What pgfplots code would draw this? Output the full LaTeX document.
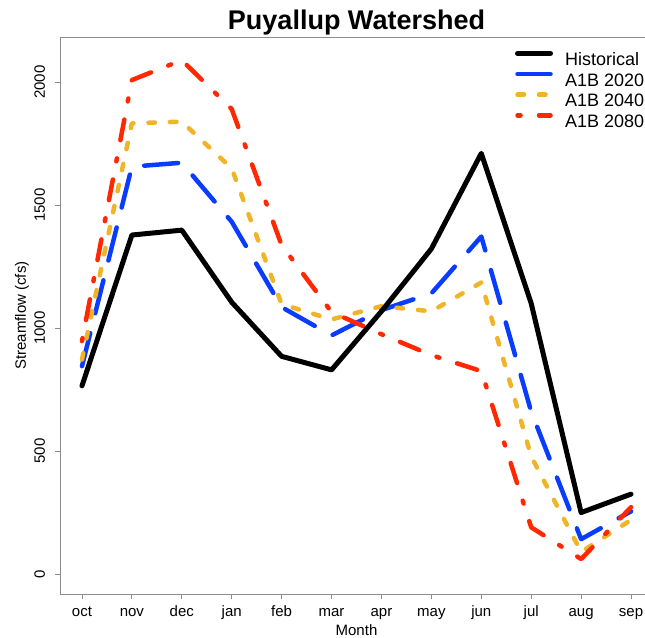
\documentclass[border=0pt]{standalone}
\usepackage{fontspec}
\setmainfont{Liberation Sans}
\usepackage{pgfplots}
\pgfplotsset{compat=1.18}
\definecolor{cBlue}{HTML}{0A3CFF}
\definecolor{cOrange}{HTML}{F0B428}
\definecolor{cRed}{HTML}{FF2800}
\definecolor{cFrame}{gray}{0.55}
\tikzset{
  sHist/.style={black, line width=5pt, line join=round, line cap=round},
  s2020/.style={cBlue, line width=4.5pt, line join=round, line cap=round, dash pattern=on 34pt off 20.5pt},
  s2040/.style={cOrange, line width=4.5pt, line join=round, line cap=round, dash pattern=on 6.5pt off 15pt},
  s2080/.style={cRed, line width=4.5pt, line join=round, line cap=round, dash pattern=on 3pt off 18.5pt on 21pt off 18.5pt},
}
\begin{document}
\begin{tikzpicture}
\useasboundingbox (-60pt,-43pt) rectangle (585pt,594pt);
\begin{axis}[
  name=ax,
  at={(0pt,0pt)}, anchor=south west,
  scale only axis, width=593pt, height=557pt,
  xmin=-0.44, xmax=11.44, ymin=-81, ymax=2183,
  axis line style={draw=none},
  xtick={0,1,2,3,4,5,6,7,8,9,10,11},
  xticklabels={oct,nov,dec,jan,feb,mar,apr,may,jun,jul,aug,sep},
  ytick={0,500,1000,1500,2000},
  tick align=outside, tick pos=left, major tick length=5pt,
  tick style={cFrame, line width=0.8pt},
  /pgf/number format/assume math mode=true,
  /pgf/number format/1000 sep={},
  every tick label/.append style={font=\fontsize{15}{18}\selectfont},
  xticklabel style={anchor=base, inner sep=0pt, yshift=-17pt},
  yticklabel style={anchor=base, inner sep=0pt, rotate=90, yshift=10pt},
  xlabel={Month},
  ylabel={Streamflow (cfs)},
  xlabel style={at={(axis description cs:0.5,0)}, anchor=base, inner sep=0pt, yshift=-41pt, font=\fontsize{15}{18}\selectfont},
  ylabel style={at={(axis description cs:0,0.5)}, anchor=base, inner sep=0pt, yshift=34pt, font=\fontsize{15}{18}\selectfont},
  title={Puyallup Watershed},
  title style={at={(axis description cs:0.5,1)}, anchor=base, inner sep=0pt, yshift=1pt, font=\fontsize{27}{32}\selectfont\bfseries},
  legend style={at={(axis description cs:0.7673,0.9749)}, anchor=north west, draw=none, fill=none,
    inner sep=0pt, outer sep=0pt, row sep=6.1pt, column sep=12pt,
    font=\fontsize{18}{21}\selectfont,
    nodes={inner sep=0pt, text height=12.5pt, text depth=0pt}},
  legend cell align=left,
  legend image code/.code={\draw[#1] (0pt,6pt) -- (33pt,6pt);},
]
\addlegendimage{sHist}\addlegendentry{Historical}
\addlegendimage{s2020}\addlegendentry{A1B 2020}
\addlegendimage{s2040}\addlegendentry{A1B 2040}
\addlegendimage{s2080}\addlegendentry{A1B 2080}
% A1B 2020
\addplot[s2020, forget plot] coordinates {
(0,845) (1,1656) (2,1672) (3,1432) (4,1085) (5,970) (6,1073) (7,1141) (8,1372) (9,660) (10,142) (11,255)};
% A1B 2040
\addplot[s2040, forget plot] coordinates {
(0,872) (1,1832) (2,1839) (3,1649) (4,1097) (5,1035) (6,1089) (7,1068) (8,1185) (9,478) (10,90) (11,220)};
% A1B 2080
\addplot[s2080, forget plot] coordinates {
(0,947) (1,2008) (2,2089) (3,1890) (4,1337) (5,1065) (6,975) (7,890) (8,825) (9,190) (10,61) (11,272)};
% Historical
\addplot[sHist, forget plot] coordinates {
(0,765) (1,1378) (2,1398) (3,1105) (4,885) (5,830) (6,1068) (7,1322) (8,1710) (9,1100) (10,250) (11,325)};
\end{axis}
\draw[cFrame, line width=0.8pt] (ax.south east) -- (ax.south west) -- (ax.north west) -- (ax.north east);
\end{tikzpicture}
\end{document}
